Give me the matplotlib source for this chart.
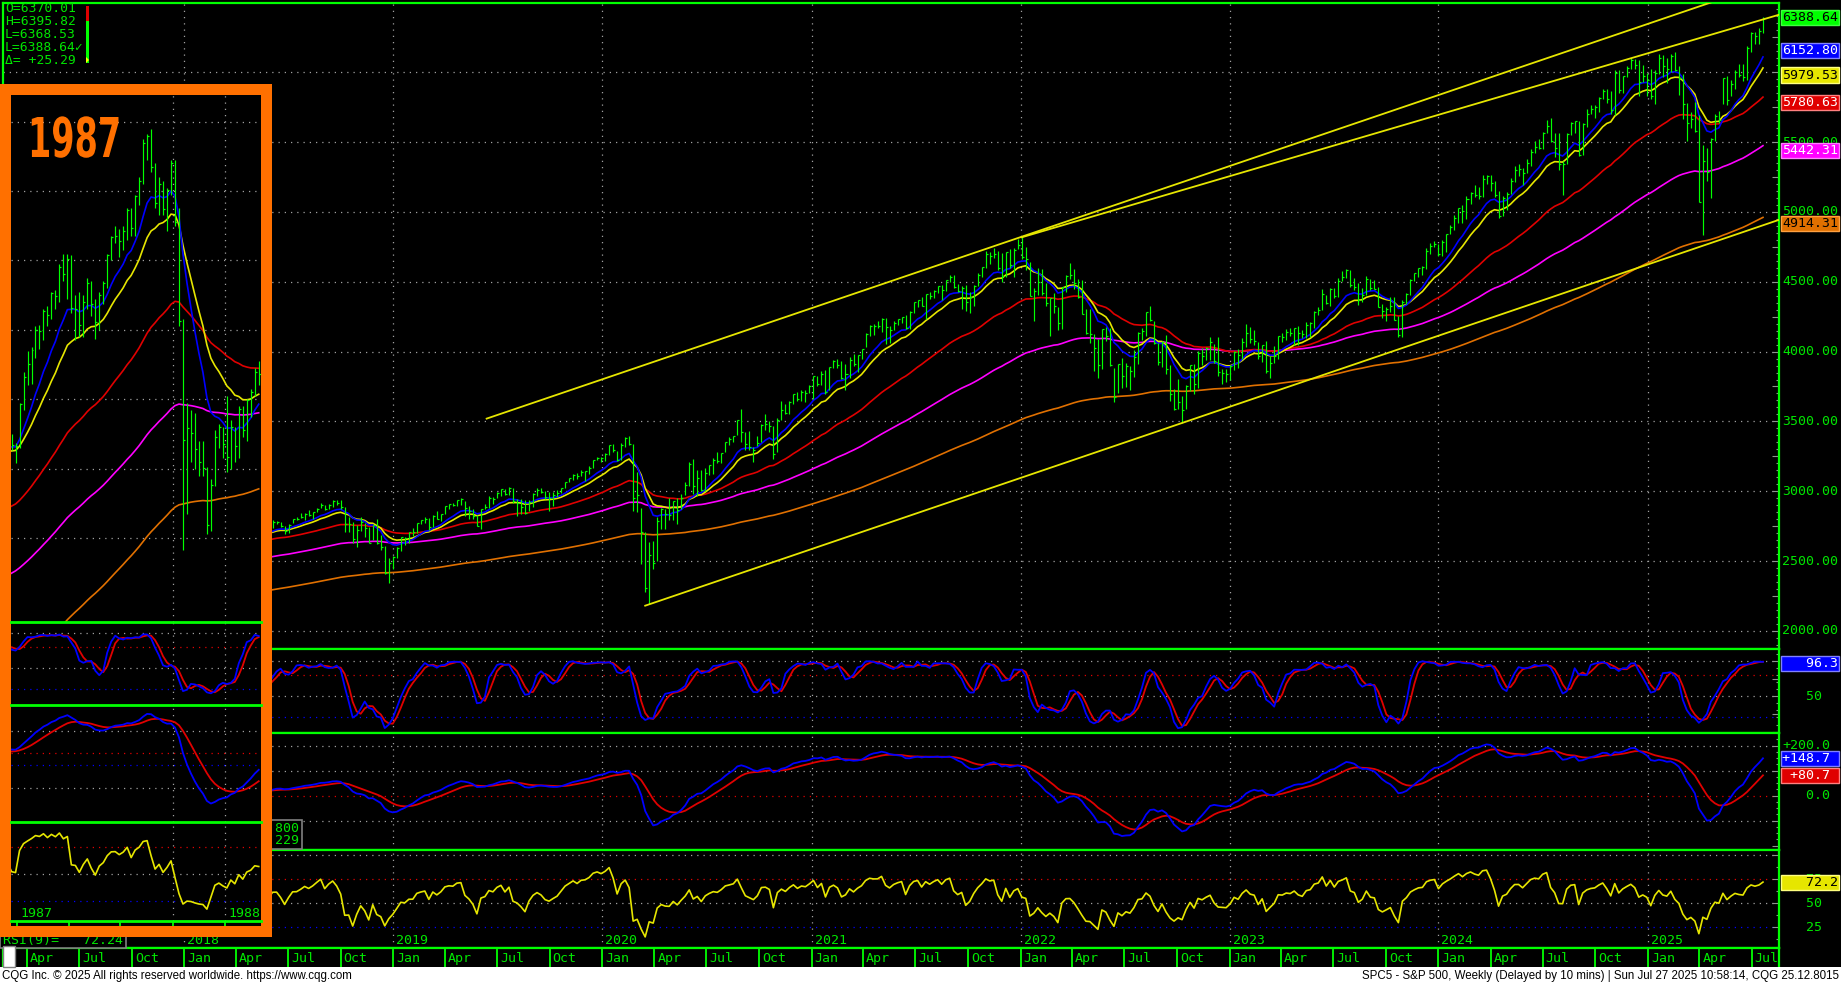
import numpy as np
import pandas as pd
import matplotlib
matplotlib.use("Agg")
import matplotlib.pyplot as plt
import matplotlib.dates as mdates
from matplotlib.patches import Rectangle, Polygon
from matplotlib.patheffects import AbstractPathEffect
from matplotlib.ticker import MultipleLocator
from matplotlib.transforms import Affine2D, blended_transform_factory, offset_copy

W, H = 1841, 985
GREEN = "#00ff00"
TXT = "#00e600"
BLUE = "#0000ff"
YEL = "#e6e600"
RED = "#e00000"
MAG = "#ff00ff"
ORG = "#e07000"
BORDER = "#ff7000"
GRID = "#a0a0a0"
MONO = ["DejaVu Sans Mono", "DejaVu Sans"]

# ---- S&P 500 weekly bars (week of Monday), 2018 .. Jul 2025 ----
c2018 = [2743, 2786, 2810, 2873, 2762, 2620, 2732, 2747, 2691, 2786, 2752, 2588, 2641, 2605, 2656, 2670, 2670, 2663, 2728, 2713, 2721, 2735, 2779, 2780, 2755, 2718, 2760, 2801, 2802, 2819, 2840, 2833, 2850, 2875, 2902, 2872, 2905, 2930, 2914, 2886, 2767, 2768, 2658, 2723, 2781, 2736, 2633, 2760, 2633, 2600, 2417, 2486]
h2018 = [2747, 2790, 2811, 2873, 2872, 2764, 2755, 2747, 2790, 2786, 2802, 2741, 2674, 2672, 2680, 2718, 2683, 2682, 2733, 2743, 2742, 2736, 2791, 2790, 2778, 2753, 2764, 2802, 2815, 2848, 2841, 2863, 2853, 2877, 2916, 2903, 2910, 2941, 2940, 2940, 2889, 2816, 2779, 2756, 2815, 2775, 2746, 2760, 2800, 2685, 2607, 2520]
l2018 = [2682, 2736, 2769, 2808, 2759, 2533, 2619, 2675, 2647, 2681, 2741, 2585, 2594, 2553, 2586, 2660, 2612, 2594, 2660, 2702, 2702, 2676, 2734, 2764, 2741, 2692, 2698, 2770, 2796, 2808, 2795, 2825, 2802, 2853, 2878, 2864, 2874, 2886, 2903, 2874, 2710, 2710, 2628, 2603, 2714, 2670, 2631, 2649, 2621, 2583, 2409, 2347]
c2019 = [2532, 2596, 2671, 2665, 2707, 2708, 2776, 2793, 2804, 2743, 2822, 2801, 2834, 2893, 2907, 2905, 2940, 2946, 2881, 2860, 2826, 2752, 2873, 2887, 2950, 2942, 2990, 3014, 2977, 3026, 2932, 2919, 2889, 2847, 2926, 2979, 3007, 2992, 2962, 2952, 2970, 2986, 3023, 3067, 3093, 3120, 3110, 3141, 3146, 3169, 3221, 3240]
h2019 = [2538, 2598, 2675, 2671, 2709, 2738, 2776, 2795, 2816, 2812, 2831, 2861, 2836, 2894, 2910, 2916, 2940, 2954, 2932, 2892, 2875, 2830, 2876, 2911, 2964, 2959, 2996, 3017, 3018, 3028, 3027, 2945, 2943, 2939, 2940, 2985, 3021, 3022, 3002, 2993, 2993, 3008, 3027, 3067, 3098, 3121, 3128, 3154, 3146, 3183, 3226, 3247]
l2019 = [2444, 2525, 2570, 2612, 2631, 2682, 2703, 2764, 2774, 2722, 2743, 2800, 2785, 2840, 2873, 2898, 2898, 2900, 2826, 2801, 2805, 2750, 2729, 2873, 2880, 2912, 2952, 2968, 2970, 2976, 2914, 2822, 2840, 2834, 2857, 2891, 2965, 2985, 2946, 2856, 2892, 2958, 2985, 3026, 3067, 3078, 3091, 3107, 3070, 3125, 3166, 3221]
c2020 = [3235, 3265, 3330, 3295, 3226, 3328, 3380, 3338, 2954, 2972, 2711, 2305, 2541, 2489, 2790, 2875, 2837, 2831, 2930, 2864, 2955, 3044, 3194, 3041, 3098, 3009, 3130, 3185, 3225, 3216, 3271, 3351, 3373, 3397, 3508, 3427, 3341, 3319, 3298, 3348, 3477, 3484, 3465, 3270, 3510, 3585, 3558, 3638, 3699, 3663, 3709, 3703, 3756]
h2020 = [3246, 3276, 3330, 3338, 3285, 3342, 3385, 3393, 3337, 3137, 2883, 2711, 2637, 2641, 2819, 2880, 2871, 2955, 2932, 2955, 2980, 3068, 3212, 3233, 3155, 3154, 3165, 3186, 3236, 3280, 3272, 3352, 3387, 3399, 3510, 3588, 3425, 3429, 3320, 3398, 3483, 3550, 3502, 3465, 3521, 3646, 3628, 3645, 3699, 3712, 3726, 3723, 3760]
l2020 = [3212, 3214, 3263, 3280, 3214, 3225, 3315, 3328, 2856, 2855, 2478, 2281, 2192, 2447, 2500, 2727, 2728, 2797, 2797, 2766, 2875, 2971, 3040, 2984, 2965, 3004, 3000, 3115, 3127, 3201, 3200, 3284, 3328, 3355, 3401, 3350, 3293, 3292, 3209, 3323, 3354, 3441, 3424, 3234, 3279, 3512, 3550, 3555, 3622, 3645, 3647, 3636, 3703]
c2021 = [3825, 3768, 3841, 3714, 3887, 3934, 3907, 3811, 3842, 3943, 3913, 3975, 4020, 4129, 4185, 4180, 4181, 4233, 4174, 4156, 4204, 4230, 4247, 4166, 4281, 4352, 4370, 4327, 4412, 4395, 4437, 4468, 4442, 4509, 4535, 4459, 4433, 4455, 4357, 4391, 4471, 4545, 4605, 4697, 4683, 4698, 4595, 4538, 4712, 4621, 4726, 4766]
h2021 = [3827, 3823, 3861, 3870, 3888, 3937, 3950, 3929, 3914, 3960, 3983, 3978, 4021, 4130, 4191, 4195, 4218, 4238, 4237, 4185, 4218, 4234, 4249, 4262, 4287, 4355, 4372, 4394, 4415, 4429, 4440, 4470, 4480, 4513, 4545, 4547, 4486, 4466, 4474, 4429, 4475, 4560, 4608, 4718, 4714, 4743, 4717, 4705, 4713, 4731, 4740, 4808]
l2021 = [3663, 3750, 3764, 3694, 3725, 3884, 3885, 3805, 3723, 3814, 3894, 3853, 3949, 4035, 4114, 4118, 4171, 4143, 4057, 4061, 4152, 4188, 4206, 4165, 4164, 4276, 4320, 4323, 4233, 4379, 4385, 4420, 4367, 4431, 4495, 4457, 4427, 4305, 4288, 4278, 4329, 4468, 4537, 4595, 4630, 4672, 4585, 4495, 4532, 4600, 4531, 4733]
c2022 = [4677, 4663, 4398, 4432, 4501, 4419, 4349, 4385, 4329, 4204, 4463, 4543, 4546, 4488, 4393, 4272, 4132, 4123, 4024, 3901, 4158, 4109, 3901, 3675, 3912, 3825, 3899, 3863, 3962, 4130, 4145, 4280, 4228, 4058, 3924, 4067, 3873, 3693, 3586, 3640, 3583, 3753, 3901, 3771, 3993, 3965, 4026, 4072, 3934, 3852, 3845, 3840]
h2022 = [4819, 4749, 4639, 4453, 4596, 4590, 4490, 4386, 4416, 4320, 4465, 4546, 4637, 4593, 4521, 4512, 4308, 4307, 4123, 4090, 4160, 4178, 4168, 3884, 3913, 3951, 3918, 3897, 4013, 4140, 4167, 4281, 4325, 4219, 4062, 4077, 4119, 3907, 3733, 3806, 3685, 3763, 3905, 3911, 4002, 4029, 4034, 4101, 4052, 4101, 3877, 3878]
l2022 = [4663, 4582, 4395, 4222, 4407, 4402, 4324, 4115, 4279, 4157, 4161, 4424, 4517, 4450, 4381, 4267, 4125, 4063, 3859, 3810, 3876, 4074, 3900, 3637, 3704, 3741, 3743, 3722, 3819, 3911, 4080, 4111, 4218, 4057, 3907, 3887, 3838, 3647, 3584, 3590, 3491, 3591, 3721, 3699, 3736, 3906, 3938, 3937, 3919, 3827, 3765, 3783]
c2023 = [3895, 3999, 3973, 4071, 4136, 4090, 4079, 3970, 4046, 3862, 3917, 3971, 4109, 4105, 4138, 4133, 4169, 4136, 4124, 4192, 4205, 4282, 4299, 4410, 4348, 4450, 4399, 4505, 4536, 4582, 4478, 4464, 4370, 4406, 4516, 4457, 4450, 4320, 4288, 4308, 4327, 4224, 4117, 4358, 4415, 4514, 4559, 4595, 4604, 4719, 4755, 4770]
h2023 = [3906, 4003, 4016, 4095, 4195, 4179, 4156, 4070, 4048, 4079, 3965, 4039, 4110, 4133, 4163, 4170, 4170, 4186, 4154, 4212, 4212, 4290, 4322, 4448, 4408, 4458, 4456, 4528, 4578, 4594, 4584, 4528, 4490, 4458, 4541, 4516, 4511, 4462, 4338, 4316, 4393, 4393, 4256, 4367, 4418, 4521, 4560, 4598, 4610, 4739, 4779, 4793]
l2023 = [3794, 3866, 3885, 3949, 4031, 4061, 4048, 3944, 3925, 3847, 3809, 3917, 3949, 4069, 4086, 4113, 4049, 4048, 4099, 4098, 4104, 4166, 4261, 4296, 4337, 4328, 4385, 4389, 4502, 4527, 4463, 4443, 4335, 4356, 4404, 4442, 4448, 4316, 4238, 4216, 4283, 4223, 4104, 4103, 4341, 4404, 4504, 4537, 4546, 4590, 4700, 4745]
c2024 = [4697, 4784, 4840, 4891, 4959, 5027, 5006, 5089, 5137, 5124, 5117, 5234, 5254, 5204, 5123, 4967, 5100, 5128, 5223, 5303, 5305, 5278, 5347, 5432, 5465, 5460, 5567, 5615, 5505, 5459, 5346, 5344, 5554, 5635, 5648, 5408, 5626, 5703, 5738, 5751, 5815, 5865, 5808, 5729, 5996, 5871, 5969, 6032, 6090, 6051, 5931, 5971]
h2024 = [4772, 4798, 4842, 4907, 4975, 5030, 5048, 5111, 5140, 5190, 5180, 5262, 5265, 5264, 5220, 5150, 5114, 5139, 5239, 5325, 5341, 5315, 5375, 5447, 5506, 5524, 5570, 5655, 5670, 5563, 5567, 5362, 5564, 5642, 5651, 5651, 5636, 5734, 5767, 5765, 5823, 5878, 5879, 5863, 6012, 6017, 5972, 6044, 6099, 6093, 6085, 6049]
l2024 = [4682, 4682, 4714, 4845, 4872, 4919, 4921, 4946, 5058, 5104, 5094, 5104, 5203, 5146, 5107, 4953, 4970, 5011, 5128, 5211, 5256, 5191, 5278, 5330, 5420, 5447, 5448, 5562, 5497, 5390, 5302, 5120, 5345, 5550, 5561, 5402, 5406, 5611, 5698, 5674, 5718, 5808, 5780, 5703, 5696, 5853, 5853, 5963, 6020, 6023, 5832, 5932]
c2025 = [5942, 5827, 5997, 6101, 6041, 6026, 6115, 6013, 5955, 5770, 5639, 5667, 5581, 5074, 5363, 5283, 5525, 5687, 5660, 5958, 5803, 5912, 6000, 5977, 5967, 6173, 6279, 6260, 6297, 6389]
h2025 = [5994, 6021, 6014, 6129, 6120, 6101, 6128, 6147, 6043, 5986, 5782, 5715, 5787, 5695, 5481, 5459, 5528, 5700, 5720, 5959, 5969, 5944, 6017, 6060, 6059, 6187, 6284, 6290, 6316, 6396]
l2025 = [5829, 5809, 5774, 5987, 5962, 5923, 6004, 6008, 5837, 5667, 5505, 5603, 5573, 5069, 4835, 5220, 5101, 5506, 5634, 5775, 5768, 5830, 5877, 5963, 5940, 5943, 6146, 6201, 6202, 6281]

# ---- 1987 inset, weekly bars from late Aug 1986 to early Mar 1988 ----
c1986 = [252.9, 250.5, 230.7, 232.2, 232.2, 233.7, 235.5, 238.8, 238.3, 244.0, 245.8, 246.0, 245.9, 249.2, 251.2, 247.4, 249.7, 246.8]
h1986 = [254.0, 254.2, 250.5, 233.5, 236.0, 235.0, 236.0, 240.0, 241.0, 244.5, 247.0, 248.0, 247.5, 249.5, 254.0, 252.0, 250.5, 250.0]
l1986 = [247.0, 249.0, 228.7, 228.0, 229.0, 228.5, 232.0, 234.0, 235.0, 235.5, 243.0, 243.0, 236.5, 245.0, 247.0, 245.0, 245.0, 245.5]
c1987 = [246.5, 258.7, 266.3, 270.1, 274.1, 280.0, 279.7, 285.5, 284.2, 290.7, 289.9, 298.2, 296.1, 300.5, 286.4, 286.0, 281.5, 288.0, 293.4, 287.4, 282.2, 290.1, 293.5, 301.6, 306.9, 307.2, 305.6, 308.4, 314.6, 309.3, 318.7, 323.0, 334.0, 335.9, 327.0, 316.7, 322.0, 314.9, 320.2, 328.1, 311.1, 282.7, 248.2, 251.8, 250.4, 245.6, 242.0, 240.3, 223.9, 235.3, 249.2, 252.0, 247.1]
h1987 = [247.5, 259.0, 268.0, 274.0, 275.0, 281.0, 281.5, 286.0, 287.0, 291.0, 291.5, 299.0, 301.9, 301.9, 301.5, 290.0, 291.0, 290.0, 295.0, 294.0, 289.0, 291.0, 294.0, 302.0, 307.0, 310.0, 309.0, 310.0, 315.0, 315.0, 319.0, 324.0, 335.0, 336.5, 337.9, 328.0, 324.0, 323.0, 321.0, 329.0, 329.0, 315.0, 283.0, 259.0, 257.0, 256.0, 248.0, 248.0, 240.5, 237.0, 251.0, 253.0, 252.0]
l1987 = [241.5, 246.0, 257.0, 264.0, 264.5, 272.0, 274.5, 277.0, 281.0, 283.0, 286.0, 288.0, 294.0, 289.0, 285.0, 277.0, 278.0, 278.0, 286.0, 284.0, 277.5, 280.0, 287.5, 292.0, 300.0, 305.0, 301.0, 303.0, 306.0, 307.0, 307.0, 316.0, 322.0, 329.0, 325.5, 315.0, 313.0, 313.0, 308.6, 319.0, 310.0, 281.0, 216.5, 227.0, 242.0, 240.0, 238.0, 238.0, 221.2, 222.0, 235.0, 246.0, 243.0]
c1988 = [243.4, 252.1, 246.5, 257.1, 251.0, 259.8, 262.2, 268.0, 267.3]
h1988 = [261.0, 254.0, 252.0, 258.0, 258.0, 260.0, 263.0, 269.0, 271.0]
l1988 = [239.0, 240.0, 242.0, 243.0, 249.0, 248.0, 255.0, 261.0, 264.0]

# moving averages: spans and colours, plus starting values
ma_colors = [ORG, MAG, RED, YEL, BLUE]
ma_spans_main = [190, 95, 44, 16, 11]
ma_seed_main = [2180, 2420, 2560, 2650, 2680]
ma_spans_1987 = [158, 110, 55, 20, 11]
ma_seed_1987 = [164, 197, 216, 247, 250]
macd_seed_main = [2650, 2585, 55]
macd_seed_1987 = [250, 246, 3]

# yellow trend lines (date, price) pairs
trend_lines = [
    (("2019-06-13", 3520), ("2025-06-01", 6556)),
    (("2022-01-03", 4818), ("2025-08-18", 6411)),
    (("2020-03-16", 2181), ("2025-08-18", 4943)),
]

# right-hand value tags
price_tags = [(6388.64, "6388.64", GREEN, "black", "#40ff40"),
              (6152.80, "6152.80", BLUE, "white", "#8080ff"),
              (5979.53, "5979.53", "#e6e600", "black", "#ffff80"),
              (5780.63, "5780.63", "#e00000", "white", "#ff8080"),
              (5442.31, "5442.31", "#ff00ff", "white", "#ff80ff"),
              (4914.31, "4914.31", ORG, "black", "#ffa040")]
legend_lines = ["O=6370.01", "H=6395.82", "L=6368.53", "L=6388.64\u2713", "\u0394= +25.29"]

close = np.array(c2018 + c2019 + c2020 + c2021 + c2022 + c2023 + c2024 + c2025, float)
high = np.array(h2018 + h2019 + h2020 + h2021 + h2022 + h2023 + h2024 + h2025, float)
low = np.array(l2018 + l2019 + l2020 + l2021 + l2022 + l2023 + l2024 + l2025, float)
weeks = pd.date_range("2018-01-01", periods=len(close), freq="W-MON")
xw = mdates.date2num(weeks.to_pydatetime())

ic = np.array(c1986 + c1987 + c1988, float)
ih = np.array(h1986 + h1987 + h1988, float)
il = np.array(l1986 + l1987 + l1988, float)
iweeks = pd.date_range("1986-08-25", periods=len(ic), freq="W-MON")
ixw = mdates.date2num(iweeks.to_pydatetime())


def ema(vals, span, seed):
    a = 2.0 / (span + 1.0)
    out = np.empty(len(vals))
    v = seed
    for i, x in enumerate(vals):
        v += a * (x - v)
        out[i] = v
    return out


def slow_stoch(h, l, c, n=14):
    hh = pd.Series(h).rolling(n, min_periods=1).max()
    ll = pd.Series(l).rolling(n, min_periods=1).min()
    raw = 100 * (pd.Series(c) - ll) / (hh - ll)
    k = raw.rolling(3, min_periods=1).mean()
    d = k.rolling(3, min_periods=1).mean()
    return k.values, d.values


def rsi(c, n=9):
    diff = np.diff(c, prepend=c[0])
    up = pd.Series(np.clip(diff, 0, None)).ewm(alpha=1.0 / n, adjust=False).mean()
    dn = pd.Series(np.clip(-diff, 0, None)).ewm(alpha=1.0 / n, adjust=False).mean()
    return (100 - 100 / (1 + up / dn.replace(0, np.nan))).values


class Squeeze(AbstractPathEffect):
    """Narrow the glyphs horizontally (condensed poster lettering)."""

    def __init__(self, sx):
        super().__init__()
        self.sx = sx

    def draw_path(self, renderer, gc, tpath, affine, rgbFace=None):
        renderer.draw_path(gc, tpath, Affine2D().scale(self.sx, 1.0) + affine, rgbFace)


fig = plt.figure(figsize=(W / 100, H / 100), dpi=100, facecolor="black")


def px_axes(x0, y0, x1, y1, z=0):
    ax = fig.add_axes([x0 / W, 1 - y1 / H, (x1 - x0) / W, (y1 - y0) / H])
    ax.set_facecolor("black")
    ax.set_zorder(z)
    ax.set_xticks([])
    ax.set_yticks([])
    return ax


def dotted(ax, y=None, x=None, color=GRID):
    kw = dict(color=color, lw=0.9, linestyle=(0, (1, 4)), zorder=1)
    if y is not None:
        ax.axhline(y, **kw)
    else:
        ax.axvline(x, **kw)


def draw_panels(ap, ak, am, ar, x, h, l, c, spans, ma_seed, macd_seed, tick):
    for span, seed, col in zip(spans, ma_seed, ma_colors):
        ap.plot(x, ema(c, span, seed), color=col, lw=1.2, zorder=3)
    ap.vlines(x, l, h, color=GREEN, lw=0.85, zorder=4)
    ap.hlines(c, x, x + tick, color=GREEN, lw=0.85, zorder=4)
    k, d = slow_stoch(h, l, c)
    ak.plot(x, d, color=RED, lw=1.3, zorder=3)
    ak.plot(x, k, color=BLUE, lw=1.3, zorder=3)
    m = ema(c, 12, macd_seed[0]) - ema(c, 26, macd_seed[1])
    s = ema(m, 9, macd_seed[2])
    am.plot(x, s, color=RED, lw=1.3, zorder=3)
    am.plot(x, m, color=BLUE, lw=1.3, zorder=3)
    ar.plot(x, rsi(c), color=YEL, lw=1.2, zorder=3)


# ---------------- main chart ----------------
LX, RX = 3, 1779
ap = px_axes(LX, 3, RX, 649)
ak = px_axes(LX, 649, RX, 733)
am = px_axes(LX, 733, RX, 850)
ar = px_axes(LX, 850, RX, 948)
axx = px_axes(LX, 948, RX, 967)
xmin = mdates.date2num(pd.Timestamp("2017-02-18"))
xmax = mdates.date2num(pd.Timestamp("2025-08-18"))
for a in (ap, ak, am, ar, axx):
    a.set_xlim(xmin, xmax)
    for sp in a.spines.values():
        sp.set_color(GREEN)
        sp.set_linewidth(1.6)
axx.spines["bottom"].set_visible(False)

ap.set_ylim(1871, 6495)
ak.set_ylim(-1.9, 116.7)
am.set_ylim(-218, 250)
ar.set_ylim(3.6, 105.7)

jans = [mdates.date2num(pd.Timestamp(f"{y}-01-01")) for y in range(2018, 2026)]
for a in (ap, ak, am, ar):
    for j in jans:
        dotted(a, x=j)
for v in range(2000, 6001, 500):
    dotted(ap, y=v)
for v, col in [(100, GRID), (80, RED), (50, GRID), (20, BLUE)]:
    dotted(ak, y=v, color=col)
for v, col in [(200, GRID), (100, GRID), (0, RED), (-100, GRID)]:
    dotted(am, y=v, color=col)
for v, col in [(100, GRID), (75, RED), (50, GRID), (25, BLUE)]:
    dotted(ar, y=v, color=col)

draw_panels(ap, ak, am, ar, xw, high, low, close, ma_spans_main, ma_seed_main, macd_seed_main, 3.5)

for (d1, p1), (d2, p2) in trend_lines:
    ap.plot([mdates.date2num(pd.Timestamp(d1)), mdates.date2num(pd.Timestamp(d2))],
            [p1, p2], color=YEL, lw=1.3, zorder=5)

# right-edge tick marks
for a, maj, mnr in [(ap, 250, 50), (ak, 25, 10), (am, 100, 25), (ar, 25, 12.5)]:
    a.yaxis.set_ticks_position("right")
    a.yaxis.set_major_locator(MultipleLocator(maj))
    a.yaxis.set_minor_locator(MultipleLocator(mnr))
    a.tick_params(axis="y", which="major", direction="in", length=5, width=0.8,
                  colors="#909090", labelright=False, labelleft=False)
    a.tick_params(axis="y", which="minor", direction="in", length=2.5, width=0.8,
                  colors="#909090")

LABX = 1782 / W


def axis_label(ax, v, s):
    tr = blended_transform_factory(fig.transFigure, ax.transData)
    ax.text(LABX, v, s, transform=tr, color=TXT, fontsize=9.5, family=MONO,
            va="center", ha="left", clip_on=False, zorder=4)


def tag(ax, v, s, bg, fg, ec):
    tr = blended_transform_factory(fig.transFigure, ax.transData)
    ax.text(LABX, v, s, transform=tr, color=fg, fontsize=9.5, family=MONO,
            va="center", ha="left", clip_on=False, zorder=6,
            bbox=dict(boxstyle="square,pad=0.08", fc=bg, ec=ec, lw=1.0))


for v in range(2000, 6001, 500):
    axis_label(ap, v, f"{v:.2f}")
for v, s, bg, fg, ec in price_tags:
    tag(ap, v, s, bg, fg, ec)
axis_label(ak, 50, "   50")
tag(ak, 96.3, "   96.3", BLUE, "white", "#8080ff")
axis_label(am, 200, "+200.0")
axis_label(am, 0, "   0.0")
tag(am, 148.7, "+148.7 ", BLUE, "white", "#8080ff")
tag(am, 80.7, " +80.7 ", "#e00000", "white", "#ff8080")
axis_label(ar, 75, "   75")
axis_label(ar, 50, "   50")
axis_label(ar, 25, "   25")
tag(ar, 72.2, "   72.2", "#e6e600", "black", "#ffff80")

# bottom date strip
qtrs = pd.date_range("2017-04-01", "2025-07-01", freq="QS")
trx = offset_copy(blended_transform_factory(axx.transData, axx.transAxes), fig=fig, x=3, y=0, units="dots")
for q in qtrs:
    qx = mdates.date2num(q)
    axx.axvline(qx, color=GREEN, lw=1.3)
    axx.text(qx, 0.45, q.strftime("%b"), transform=trx, color=TXT, fontsize=9.5,
             family=MONO, va="center", ha="left", clip_on=False)
trr = offset_copy(blended_transform_factory(ar.transData, ar.transAxes), fig=fig, x=3, y=0, units="dots")
for j, y in zip(jans, range(2018, 2026)):
    ar.text(j, 0.075, str(y), transform=trr, color=TXT, fontsize=9.5, family=MONO,
            va="center", ha="left", zorder=4)

# boxes partly under the inset
fig.patches.append(Rectangle((150 / W, 1 - 849 / H), 152 / W, 29 / H, transform=fig.transFigure,
                             fc="black", ec="#808080", lw=1.2, zorder=0.5))
fig.text(299 / W, 1 - 828 / H, "0.800", color=TXT, fontsize=9.5, family=MONO,
         ha="right", va="center", zorder=0.6)
fig.text(299 / W, 1 - 841 / H, "0.229", color=TXT, fontsize=9.5, family=MONO,
         ha="right", va="center", zorder=0.6)
fig.patches.append(Rectangle((0, 1 - 948 / H), 126 / W, 20 / H, transform=fig.transFigure,
                             fc="black", ec="#808080", lw=1.2, zorder=0.5))
fig.text(3 / W, 1 - 940.5 / H, "RSI(9)=   72.24", color=TXT, fontsize=9.5, family=MONO,
         ha="left", va="center", zorder=0.6)
fig.patches.append(Rectangle((3 / W, 1 - 967 / H), 12 / W, 21 / H, transform=fig.transFigure,
                             fc="white", ec="#808080", lw=1.0, zorder=0.7))

# footer
fig.patches.append(Rectangle((0, 0), 1, 18 / H, transform=fig.transFigure, fc="white", ec="none", zorder=0.2))
fig.text(2 / W, 1 - 976 / H, "CQG Inc. \u00a9 2025 All rights reserved worldwide. https://www.cqg.com",
         color="black", fontsize=8.3, family=["Liberation Sans", "DejaVu Sans"], va="center", ha="left")
fig.text(1839 / W, 1 - 976 / H,
         "SPC5 - S&P 500, Weekly (Delayed by 10 mins) | Sun Jul 27 2025 10:58:14, CQG 25.12.8015",
         color="black", fontsize=8.3, family=["Liberation Sans", "DejaVu Sans"], va="center", ha="right")

# top-left bar legend
for i, s in enumerate(legend_lines):
    fig.text(5 / W, 1 - (9 + 12.9 * i) / H, s, color=TXT, fontsize=9.4, family=MONO,
             va="center", ha="left", zorder=3)
fig.patches.append(Rectangle((86 / W, 1 - 21 / H), 3 / W, 15 / H, transform=fig.transFigure,
                             fc="#e00000", ec="none", zorder=3))
fig.patches.append(Rectangle((86 / W, 1 - 63 / H), 3 / W, 42 / H, transform=fig.transFigure,
                             fc=GREEN, ec="none", zorder=3))
fig.patches.append(Polygon([[86 / W, 1 - 57 / H], [86 / W, 1 - 63 / H], [89 / W, 1 - 60 / H]],
                           closed=True, transform=fig.transFigure, fc="#ffff00", ec="none", zorder=3.1))

# ---------------- 1987 inset ----------------
fig.patches.append(Rectangle((0, 1 - 937 / H), 272 / W, 853 / H, transform=fig.transFigure,
                             fc=BORDER, ec="none", zorder=1.5))
ip = px_axes(11, 95, 261, 622, z=2)
ik = px_axes(11, 622, 261, 705, z=2)
im = px_axes(11, 705, 261, 822, z=2)
ir = px_axes(11, 822, 261, 921, z=2)
ixs = px_axes(11, 921, 261, 926, z=2)
ixmin = mdates.date2num(pd.Timestamp("1986-12-21"))
ixmax = mdates.date2num(pd.Timestamp("1988-03-04"))
for a in (ip, ik, im, ir, ixs):
    a.set_xlim(ixmin, ixmax)
    for sp in a.spines.values():
        sp.set_visible(False)
for a in (ik, im, ir, ixs):
    a.spines["top"].set_visible(True)
    a.spines["top"].set_color(GREEN)
    a.spines["top"].set_linewidth(2.0)

ip.set_ylim(195.8, 347.7)
ik.set_ylim(-2.4, 116.1)
im.set_ylim(-24.5, 17.25)
ir.set_ylim(6.1, 98.6)

for v in range(220, 341, 20):
    dotted(ip, y=v)
for a in (ip, ik, im, ir):
    for d in ("1987-10-01", "1988-01-01"):
        dotted(a, x=mdates.date2num(pd.Timestamp(d)))
for v, col in [(100, GRID), (80, RED), (50, GRID), (20, BLUE)]:
    dotted(ik, y=v, color=col)
for v, col in [(8, GRID), (0, RED), (-4, BLUE), (-12.3, GRID)]:
    dotted(im, y=v, color=col)
for v, col in [(75, RED), (50, GRID), (25, BLUE)]:
    dotted(ir, y=v, color=col)

draw_panels(ip, ik, im, ir, ixw, ih, il, ic, ma_spans_1987, ma_seed_1987, macd_seed_1987, 3.5)

for d in ("1987-01-01", "1987-04-01", "1987-07-01", "1987-10-01", "1988-01-01"):
    ixs.axvline(mdates.date2num(pd.Timestamp(d)), color=GREEN, lw=1.3)
tri = offset_copy(blended_transform_factory(ir.transData, ir.transAxes), fig=fig, x=3, y=0, units="dots")
for d, s in (("1987-01-01", "1987"), ("1988-01-01", "1988")):
    ir.text(mdates.date2num(pd.Timestamp(d)), 0.08, s, transform=tri, color=TXT,
            fontsize=9.5, family=MONO, va="center", ha="left", zorder=4)

fig.text(28 / W, 1 - 157 / H, "1987", color=BORDER, fontsize=39.5, fontweight="bold",
         family="DejaVu Sans", va="baseline", ha="left", zorder=3,
         path_effects=[Squeeze(0.61)])

fig.savefig("out.png", dpi=100, facecolor="black")
